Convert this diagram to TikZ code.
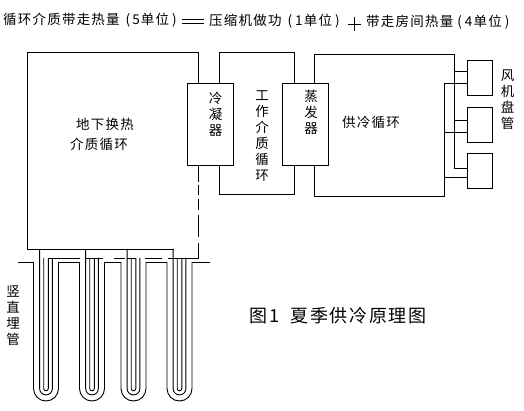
\documentclass[tikz,border=0pt]{standalone}
\usepackage{fontspec}
\newfontfamily\cjk[LetterSpace=9]{Noto Sans CJK SC}
\tikzset{
  pipe/.style={line width=0.9pt},
  unit/.style={draw, line width=0.9pt, inner sep=0pt, outer sep=0pt},
  label/.style={inner sep=0pt, align=center, font=\cjk\fontsize{13.5}{16}\selectfont},
  caption/.style={inner sep=0pt, font=\cjk\fontsize{18}{20}\selectfont}
}
\begin{document}
\begin{tikzpicture}[x=1pt, y=-1pt]
\useasboundingbox (0,0) rectangle (524,411);
% heat balance line
\node[label, anchor=west] (heatout) at (3,20) {循环介质带走热量\hspace{6pt}(\hspace{2pt}5单位\hspace{3pt})};
\draw[pipe] (182,19.5) -- (204,19.5) (182,23.5) -- (204,23.5);
\node[label, anchor=west] (work) at (209,21) {压缩机做功\hspace{6pt}(\hspace{3pt}1单位\hspace{3pt})};
\draw[pipe] (348,24) -- (361,24) (354.5,17) -- (354.5,31);
\node[label, anchor=west] (roomheat) at (366,22) {带走房间热量\hspace{4pt}(\hspace{3pt}4单位\hspace{3pt})};
% exchangers and fan coils
\node[unit, minimum width=46pt, minimum height=82pt] (condenser) at (210.5,124) {};
\node[unit, minimum width=46pt, minimum height=82pt] (evaporator) at (305.5,124) {};
\node[unit, minimum width=25pt, minimum height=35pt] (fan1) at (480,78) {};
\node[unit, minimum width=25pt, minimum height=35pt] (fan2) at (480,125) {};
\node[unit, minimum width=25pt, minimum height=35pt] (fan3) at (480,171) {};
\node[label] (condenserlabel) at (215.5,114) {冷\\凝\\器};
\node[label] (evaporatorlabel) at (311,112.5) {蒸\\发\\器};
\node[label] (worklabel) at (262,136) {工\\作\\介\\质\\循\\环};
\node[label] (fanlabel) at (507.5,100) {风\\机\\盘\\管};
\node[label] (pipelabel) at (13,316) {竖\\直\\埋\\管};
\node[label] (groundlabel) at (105,124) {地下换热};
\node[label] (mediumlabel) at (99,144) {介质循环};
\node[label] (supplylabel) at (371,122) {供冷循环};
\node[caption] (title) at (338,316) {图1\ \ 夏季供冷原理图};
% ground loop
\coordinate (groundtop) at (198.5,52);
\coordinate (groundend) at (198.5,258);
\draw[pipe] (groundtop |- condenser.north) -- (groundtop) -- (27,52) -- (27,249) -- (174,249);
\draw[pipe, dash pattern=on 17pt off 3pt on 10pt off 4pt on 11pt off 5pt on 22pt off 6pt on 15pt] (groundtop |- condenser.south) -- (groundend);
% working loop
\coordinate (workleft) at (219,52);
\coordinate (workright) at (294,52);
\draw[pipe] (workleft |- condenser.north) -- (workleft) -- (workright) -- (workright |- evaporator.north);
\draw[pipe] (workleft |- condenser.south) -- (219,194) -- (294,194) -- (workright |- evaporator.south);
% supply loop
\coordinate (supplyleft) at (314.5,54);
\coordinate (supplyright) at (454,54);
\coordinate (returnright) at (444,196);
\draw[pipe] (supplyleft |- evaporator.north) -- (supplyleft) -- (supplyright) -- (454,168) -- (fan3.west |- 454,168);
\draw[pipe] (supplyleft |- evaporator.south) -- (314.5,196) -- (returnright) -- (444,83) -- (fan1.west |- 444,83);
\draw[pipe] (454,71) -- (fan1.west |- 454,71);
\draw[pipe] (454,120) -- (fan2.west |- 454,120);
\draw[pipe] (444,132) -- (fan2.west |- 444,132);
\draw[pipe] (444,177) -- (fan3.west |- 444,177);
% buried pipes
\foreach \c in {46,92,133.5,179.5} {
  \draw[pipe] (\c-12.5,262) -- (\c-12.5,388.5) arc[start angle=180, end angle=0, radius=12.5] -- (\c+12.5,262);
  \draw[pipe] (\c-6.4,249) -- (\c-6.4,388.5) arc[start angle=180, end angle=0, radius=6.4] -- (\c+6.4,258);
  \draw[pipe] (\c-2.3,258) -- (\c-2.3,388.5) arc[start angle=180, end angle=0, radius=2.3] -- (\c+2.3,258);
}
\foreach \a/\b in {18/33.5,58.5/79.5,104.5/121,146/167,192/210} \draw[pipe] (\a,262) -- (\b,262);
\foreach \a/\b in {48/80,85/103,114/125,127/136,145/162,168/198.5} \draw[pipe] (\a,258) -- (\b,258);
\end{tikzpicture}
\end{document}
